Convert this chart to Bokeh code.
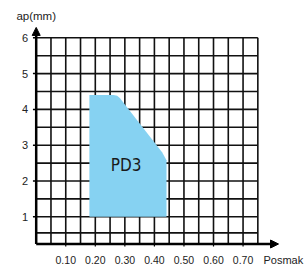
from bokeh.plotting import figure
from bokeh.models import Range1d, Arrow, NormalHead
from bokeh.core.properties import value
from bokeh.embed import file_html
from bokeh.resources import INLINE

# ---- data ----
x_ticks = [0.10, 0.20, 0.30, 0.40, 0.50, 0.60, 0.70]
x_tick_labels = ["0.10", "0.20", "0.30", "0.40", "0.50", "0.60", "0.70"]
y_ticks = [1, 2, 3, 4, 5, 6]
y_tick_labels = ["1", "2", "3", "4", "5", "6"]
x_grid = [0.05, 0.10, 0.15, 0.20, 0.25, 0.30, 0.35, 0.40, 0.45, 0.50, 0.55, 0.60, 0.65, 0.70, 0.75]
y_grid = [0.55, 1.0, 1.5, 2.0, 2.5, 3.0, 3.5, 4.0, 4.5, 5.0, 5.5, 6.0]
region_name = "PD3"
region_x = [0.180, 0.180, 0.262, 0.274, 0.283, 0.426, 0.441, 0.441]
region_y = [1.00, 4.40, 4.40, 4.38, 4.32, 2.80, 2.58, 1.00]
x_title = "Posmak"
y_title = "ap(mm)"

# ---- layout constants (data units) ----
X0, X1 = -0.1208, 0.9113
Y0, Y1 = -0.416, 7.042
AX_Y = 0.24            # level of the horizontal axis
GRID_XMAX, GRID_YMAX = 0.75, 6.0
ARROW_X, ARROW_Y = 0.82, 6.29
XLAB_Y = -0.20
YLAB_X = -0.027

p = figure(width=305, height=267, x_range=Range1d(X0, X1), y_range=Range1d(Y0, Y1),
           output_backend="svg", toolbar_location=None,
           min_border_left=0, min_border_right=0, min_border_top=0, min_border_bottom=0)
p.outline_line_color = None
p.background_fill_color = "white"
p.axis.visible = False
p.xgrid.visible = False
p.ygrid.visible = False

# grid
p.segment(x0=x_grid, y0=[AX_Y] * len(x_grid), x1=x_grid, y1=[GRID_YMAX] * len(x_grid),
          line_color="#111111", line_width=1.6)
p.segment(x0=[0] * len(y_grid), y0=y_grid, x1=[GRID_XMAX] * len(y_grid), y1=y_grid,
          line_color="#111111", line_width=1.6)

# tick marks
p.segment(x0=[-0.011] * len(y_ticks), y0=y_ticks, x1=[0] * len(y_ticks), y1=y_ticks,
          line_color="black", line_width=1.5)
p.segment(x0=x_ticks, y0=[AX_Y] * len(x_ticks), x1=x_ticks, y1=[AX_Y - 0.07] * len(x_ticks),
          line_color="black", line_width=1.2)

# region
p.patch(region_x, region_y, fill_color="#86D2F2", line_color=None)
p.text(x=[0.304], y=[2.45], text=[region_name],
       text_font=value("'DejaVu Sans Condensed', Roboto"),
       text_font_size="17px", text_align="center", text_baseline="middle", text_color="#1a1a1a")

# axis arrows
p.add_layout(Arrow(end=NormalHead(size=8, fill_color="black", line_color="black", line_width=1),
                   x_start=0, y_start=AX_Y, x_end=0, y_end=ARROW_Y, line_width=2.5, line_color="black"))
p.add_layout(Arrow(end=NormalHead(size=8, fill_color="black", line_color="black", line_width=1),
                   x_start=0, y_start=AX_Y, x_end=ARROW_X, y_end=AX_Y, line_width=2.5, line_color="black"))

# tick labels
p.text(x=x_ticks, y=[XLAB_Y] * len(x_ticks), text=x_tick_labels, text_font=value("Liberation Sans"),
       text_font_size="10.5px", text_align="center", text_baseline="middle", text_color="#222222")
p.text(x=[YLAB_X] * len(y_ticks), y=y_ticks, text=y_tick_labels, text_font=value("Liberation Sans"),
       text_font_size="11px", text_align="right", text_baseline="middle", text_color="#222222")

# titles
p.text(x=[0], y=[6.6], text=[y_title], text_font=value("Liberation Sans"),
       text_font_size="11.5px", text_align="center", text_baseline="middle", text_color="#222222")
p.text(x=[0.769], y=[XLAB_Y], text=[x_title], text_font=value("Liberation Sans"),
       text_font_size="11px", text_align="left", text_baseline="middle", text_color="#222222")

open("out.html", "w").write(file_html(p, INLINE))
